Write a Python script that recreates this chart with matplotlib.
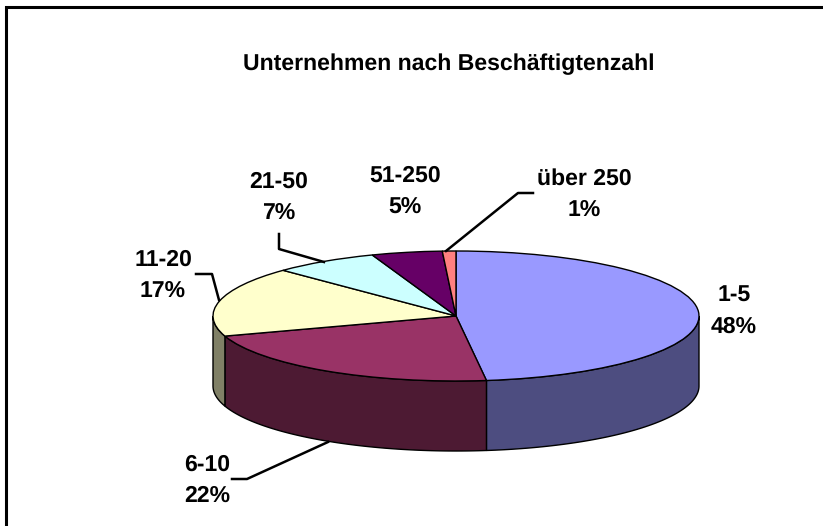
import numpy as np
import matplotlib
matplotlib.use("Agg")
import matplotlib.pyplot as plt

title = "Unternehmen nach Beschäftigtenzahl"
categories = ["1-5", "6-10", "11-20", "21-50", "51-250", "über 250"]
values = [48, 22, 17.4, 7, 4.7, 0.9]
top_colors = ["#9999FF", "#993366", "#FFFFCC", "#CCFFFF", "#660066", "#FF8080"]
side_colors = ["#4D4D80", "#4D1A33", "#808066", "#668080", "#330033", "#804040"]

W, H = 823, 526
CX, CY, RX, RY, DEPTH = 456, 316, 243, 65, 70
FS = 16.3

plt.rcParams["font.family"] = ["Liberation Sans", "DejaVu Sans"]
plt.rcParams["text.hinting"] = "no_hinting"
plt.rcParams["text.hinting_factor"] = 1
fig = plt.figure(figsize=(W / 100, H / 100), dpi=100, facecolor="white")
ax = fig.add_axes([0, 0, 1, 1])

# Side wall, behind the top face (unit circle squashed by the axis limits)
d = DEPTH / RY
edges = np.cumsum([0] + values) / sum(values) * 360
for a0, a1, c in zip(edges[:-1], edges[1:], side_colors):
    lo, hi = max(a0, 90), min(a1, 270)
    if lo >= hi:
        continue
    t = np.radians(np.linspace(lo, hi, 80))
    x, y = np.sin(t), np.cos(t)
    ax.fill(np.r_[x, x[::-1]], np.r_[y, y[::-1] - d], fc=c, ec="black", lw=1.0, zorder=1)

ax.pie(values, colors=top_colors, startangle=90, counterclock=False, radius=1, center=(0, 0),
       wedgeprops=dict(edgecolor="black", linewidth=1.0, zorder=2))
ax.set_aspect("auto")
ax.set_xlim(-CX / RX, (W - CX) / RX)
ax.set_ylim((CY - H) / RY, CY / RY)
ax.axis("off")

# Overlay in pixel coordinates for annotation furniture
ov = fig.add_axes([0, 0, 1, 1], facecolor="none")
ov.set_xlim(0, W)
ov.set_ylim(H, 0)
ov.axis("off")

ov.plot([6.5, 6.5, W], [H, 6.5, 6.5], color="black", lw=2.2, solid_joinstyle="miter", clip_on=False)
ov.text(449, 64, title, ha="center", va="center", fontsize=FS, fontweight="bold")

label_pos = [(734, 311), (207, 480), (163, 275), (279, 197), (405, 191), (584, 194)]
for (px, py), cat, val in zip(label_pos, categories, values):
    ov.text(px, py, f"{cat}\n{val:.0f}%", ha="center", va="center", fontsize=FS, fontweight="bold", linespacing=1.56)

leaders = [
    ([232, 247, 328], [479, 479, 442]),
    ([196, 212, 219], [274, 274, 300]),
    ([279, 279, 324], [234, 249, 262]),
    ([446, 518, 533], [251, 193, 193]),
]
for lx, ly in leaders:
    ov.plot(lx, ly, color="black", lw=1.8)

fig.savefig("out.png", dpi=100, facecolor="white")
